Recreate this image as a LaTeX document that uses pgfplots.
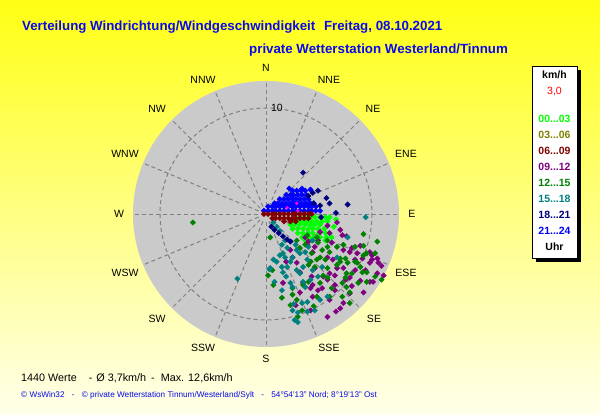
\documentclass[border=0pt]{standalone}
\usepackage{fontspec}
\setmainfont{Liberation Sans}
\usepackage{pgfplots}
\pgfplotsset{compat=1.18}
\definecolor{bgtop}{RGB}{255,255,20}
\definecolor{bgbot}{RGB}{255,255,235}
\definecolor{disk}{RGB}{202,202,202}
\definecolor{gridc}{RGB}{128,128,128}
\definecolor{ttl}{RGB}{10,10,235}
\definecolor{clime}{RGB}{0,255,0}
\definecolor{colive}{RGB}{128,128,0}
\definecolor{cmaroon}{RGB}{128,0,0}
\definecolor{cpurple}{RGB}{128,0,128}
\definecolor{cgreen}{RGB}{0,128,0}
\definecolor{cteal}{RGB}{0,128,128}
\definecolor{cnavy}{RGB}{0,0,128}
\definecolor{cblue}{RGB}{0,0,255}
\definecolor{cmag}{RGB}{255,0,255}
\begin{document}
\begin{tikzpicture}
\useasboundingbox (0,0) rectangle (600bp,-415bp);
\begin{scope}[x=1bp,y=-1bp]
\shade[top color=bgtop,bottom color=bgbot] (0,0) rectangle (600,415);
\fill[disk] (266,214) circle[radius=133];
\begin{scope}[shift={(266,214)}, draw=gridc, line width=1bp, dash pattern=on 4bp off 3bp]
\foreach \a in {0,22.5,...,337.5} \draw (\a:8) -- (\a:133);
\draw (0,0) circle[radius=106];
\end{scope}
% direction labels
\begin{scope}[every node/.style={font=\fontsize{10.5bp}{12bp}\selectfont, inner sep=0pt}]
\node at (266,68) {N};
\node at (329,80) {NNE};
\node at (373,109) {NE};
\node at (406,154) {ENE};
\node at (412,214) {E};
\node at (406,273) {ESE};
\node at (374,319) {SE};
\node at (329,348) {SSE};
\node at (266,359) {S};
\node at (203,348) {SSW};
\node at (157,319) {SW};
\node at (125,273) {WSW};
\node at (119,214) {W};
\node at (125,154) {WNW};
\node at (157,109) {NW};
\node at (203,80) {NNW};
\node at (277,108) {10};
\end{scope}
% titles
\node[anchor=base west, inner sep=0pt, text=ttl, font=\fontsize{13.3bp}{16bp}\selectfont\bfseries] at (22,30) {Verteilung Windrichtung/Windgeschwindigkeit\hspace{5bp} Freitag, 08.10.2021};
\node[anchor=base west, inner sep=0pt, text=ttl, font=\fontsize{13.3bp}{16bp}\selectfont\bfseries] at (249,53) {private Wetterstation Westerland/Tinnum};
% bottom texts
\node[anchor=base west, inner sep=0pt, font=\fontsize{10.8bp}{12bp}\selectfont] at (21,381) {1440 Werte\hspace{12bp}-\hspace{4bp}Ø 3,7km/h\hspace{5bp}-\hspace{6bp}Max. 12,6km/h};
\node[anchor=base west, inner sep=0pt, text=ttl, font=\fontsize{8.2bp}{10bp}\selectfont] at (21,397) {© WsWin32\hspace{5bp} -\hspace{5bp} © private Wetterstation Tinnum/Westerland/Sylt\hspace{5bp} -\hspace{5bp} 54°54'13" Nord; 8°19'13" Ost};
% legend box
\fill[black] (536,70) rectangle (581,262);
\filldraw[fill=white, draw=black, line width=1bp] (532,66) rectangle (577,258);
\begin{scope}[every node/.style={inner sep=0pt, font=\fontsize{10.5bp}{12bp}\selectfont\bfseries}]
\node at (554.5,75) {km/h};
\node[text=red, font=\fontsize{10.5bp}{12bp}\selectfont] at (554.5,92) {3,0};
\node[text=clime] at (554.5,119) {00...03};
\node[text=colive] at (554.5,135) {03...06};
\node[text=cmaroon] at (554.5,151) {06...09};
\node[text=cpurple] at (554.5,167) {09...12};
\node[text=cgreen] at (554.5,183) {12...15};
\node[text=cteal] at (554.5,199) {15...18};
\node[text=cnavy] at (554.5,215) {18...21};
\node[text=cblue] at (554.5,231) {21...24};
\node at (554.5,247) {Uhr};
\end{scope}
\end{scope}
\begin{axis}[at={(266bp,-214bp)}, anchor=center, x=10.6bp, y=10.6bp,
  xmin=-12.6, xmax=12.6, ymin=-12.6, ymax=12.6, hide axis, clip=false,
  scale only axis]
\pgfplotsset{every axis plot/.append style={only marks, mark=square*, mark size=1.9bp, mark options={rotate=45}}}
% 00-03
\addplot[clime] coordinates {
(3.2,-0.3) (3.7,-0.3) (4.2,-0.3) (4.6,-0.3) (5.1,-0.3) (5.6,-0.3) (6.0,-0.3)
(2.5,-0.7) (2.9,-0.7) (3.4,-0.7) (3.9,-0.7) (4.3,-0.7) (4.8,-0.7) (5.3,-0.7) (5.8,-0.7)
(2.3,-1.0) (2.7,-1.0) (3.2,-1.0) (3.7,-1.0) (4.2,-1.0) (4.6,-1.0) (5.1,-1.0)
(2.5,-1.4) (3.0,-1.4) (3.5,-1.4) (4.0,-1.4) (4.4,-1.4) (4.9,-1.4) (5.5,-1.4)
(3.0,-1.8) (3.5,-1.8) (4.0,-1.8) (4.4,-1.8) (5.0,-1.8) (5.6,-1.8) (6.0,-1.8)
(3.4,-2.2) (4.0,-2.2) (4.5,-2.2) (5.1,-2.2) (5.7,-2.2) (6.2,-2.2)
(3.7,-2.5) (4.3,-2.5) (4.9,-2.5) (5.6,-2.5) (6.4,-1.2) (6.6,-0.5)
};
% 09-12
\addplot[cpurple] coordinates {
(7.0,-1.5) (7.6,-2.1) (8.9,-3.0) (9.8,-3.6) (10.5,-4.2) (10.0,-4.3) (10.5,-5.6) (9.8,-6.4)
(8.9,-6.3) (9.2,-7.4) (7.9,-7.5) (7.0,-8.9) (7.3,-8.4) (5.8,-9.7) (5.3,-7.0) (4.9,-7.2)
(4.4,-7.8) (4.2,-7.0) (3.2,-7.4) (2.9,-4.6) (2.5,-4.1) (3.5,-6.5) (5.4,-5.9) (6.0,-5.6)
(6.7,-5.1) (6.3,-4.3) (5.8,-4.1) (4.4,-3.6) (3.9,-2.9) (8.4,-4.3) (7.9,-3.6) (9.1,-4.2)
(4.9,-2.5) (6.2,-2.7) (7.3,-3.4) (6.6,-9.2) (10.9,-4.9) (9.4,-5.3) (5.1,-1.7) (5.8,-1.1)
(3.7,-2.2) (2.3,-3.4) (1.9,-4.5) (3.2,-5.5) (4.6,-5.1) (7.5,-6.2) (8.4,-5.3) (8.1,-6.8)
(6.5,-7.2) (6.0,-8.1) (2.8,-8.6) (1.6,-6.5) (4.2,-9.1) (6.7,-0.8) (7.2,-2.0) (8.1,-3.2)
(8.6,-3.7) (10.0,-3.9) (10.6,-4.6) (9.8,-4.6) (4.6,-3.1) (4.0,-2.6) (6.0,-1.8) (7.3,-5.1)
(6.5,-5.8) (4.3,-5.9) (5.8,-6.2) (7.9,-6.0) (10.1,-6.4) (4.4,-6.7) (6.5,-6.7) (11.1,-5.8)
};
% 12-15
\addplot[cgreen] coordinates {
(10.5,-2.6) (9.2,-3.0) (10.3,-3.7) (9.5,-3.7) (8.6,-4.6) (8.9,-5.0) (9.5,-5.5) (10.3,-5.9)
(10.9,-6.2) (9.5,-6.4) (7.7,-4.6) (7.0,-4.5) (7.6,-5.6) (7.9,-7.4) (7.6,-6.9) (6.2,-7.0)
(7.2,-7.8) (7.9,-8.4) (6.0,-7.8) (4.8,-7.8) (3.5,-6.7) (2.5,-7.0) (2.5,-7.6) (2.9,-8.1)
(1.5,-7.9) (0.7,-6.7) (0.4,-2.2) (3.4,-9.1) (3.0,-9.7) (4.0,-6.4) (5.1,-6.5) (5.8,-6.0)
(4.2,-4.5) (5.1,-4.1) (5.8,-3.1) (6.7,-3.1) (7.3,-2.9) (5.8,-2.5) (4.8,-2.2) (3.9,-2.0)
(2.9,-2.5) (3.2,-3.2) (2.3,-8.6) (4.5,-8.7) (-6.9,-0.8) (0.2,-5.8) (0.6,-5.3) (9.2,-1.9)
(3.7,-2.9) (4.9,-2.7) (5.3,-3.4) (6.0,-3.6) (7.0,-4.2) (7.5,-4.2) (5.6,-4.3) (4.8,-4.3)
(4.3,-3.7) (4.6,-5.0) (4.0,-4.8) (5.8,-5.1) (6.7,-4.8) (8.4,-4.5) (8.4,-3.1) (9.2,-3.9)
(9.1,-5.5) (8.1,-5.6) (8.7,-6.5) (7.2,-6.5) (5.4,-5.8) (7.5,-6.0)
};
% 15-18
\addplot[cteal] coordinates {
(0.7,-0.8) (1.0,-1.2) (1.3,-1.6) (1.5,-2.9) (2.0,-3.2) (1.6,-3.7) (1.0,-4.5) (0.7,-4.3)
(0.4,-5.1) (1.6,-5.5) (0.8,-6.4) (2.3,-6.5) (3.2,-5.6) (3.5,-5.0) (2.9,-5.3) (2.5,-4.1)
(3.2,-3.7) (4.0,-3.1) (4.4,-2.5) (3.9,-4.3) (4.4,-5.3) (4.2,-6.2) (5.3,-5.0) (6.7,-4.1)
(5.8,-7.8) (5.1,-8.1) (4.6,-9.1) (3.0,-9.3) (3.4,-8.4) (2.5,-9.1) (2.7,-10.0) (3.9,-8.3)
(7.7,-2.2) (2.0,-5.0) (2.6,-8.5) (3.9,-9.2) (3.0,-10.2) (-2.7,-6.1) (9.4,-0.3) (0.3,-5.2)
(1.8,-2.5) (2.3,-4.5) (2.8,-2.9) (1.3,-3.9) (1.9,-5.9) (3.7,-6.9) (4.9,-5.9) (1.5,-7.2)
(1.8,-4.1) (2.9,-3.4) (1.5,-5.0) (3.7,-3.6) (2.5,-6.9) (3.5,-6.4)
};
% 21-24
\addplot[cblue] coordinates {
(-0.2,0.3) (0.2,0.3) (0.6,0.3) (0.9,0.3) (1.3,0.3) (1.7,0.3) (2.1,0.3) (2.5,0.3)
(2.8,0.3) (3.2,0.3) (3.6,0.3) (4.0,0.3) (4.3,0.3) (4.7,0.3) (5.1,0.3)
(0.2,0.7) (0.6,0.7) (0.9,0.7) (1.3,0.7) (1.7,0.7) (2.1,0.7) (2.5,0.7) (2.8,0.7)
(3.2,0.7) (3.6,0.7) (4.0,0.7) (4.3,0.7) (4.7,0.7)
(0.8,1.0) (1.1,1.0) (1.5,1.0) (1.9,1.0) (2.3,1.0) (2.6,1.0) (3.0,1.0) (3.4,1.0)
(3.8,1.0) (4.2,1.0) (4.5,1.0)
(1.3,1.4) (1.7,1.4) (2.1,1.4) (2.5,1.4) (2.8,1.4) (3.2,1.4) (3.6,1.4) (4.0,1.4)
(1.9,1.8) (2.3,1.8) (2.6,1.8) (3.0,1.8) (3.4,1.8) (3.8,1.8)
(2.5,2.2) (2.9,2.2) (3.3,2.2) (3.7,2.2) (3.4,2.4) (4.2,2.3) (2.2,2.4)
};
% 18-21
\addplot[cnavy] coordinates {
(3.5,3.9) (4.9,2.2) (5.7,1.5) (6.0,1.0) (6.6,0.1) (7.7,0.9) (5.2,-0.3) (4.0,1.7)
(4.4,2.0) (5.1,0.8) (4.5,1.0)
(0.5,-1.2) (0.8,-1.5) (1.2,-1.8) (1.6,-2.1) (2.0,-2.4) (2.3,-2.6)
};
% 06-09
\addplot[cmaroon] coordinates {
(-0.2,0) (0.2,0) (0.6,0) (0.9,0) (1.3,0) (1.7,0) (2.1,0) (2.5,0) (2.8,0) (3.2,0)
(3.6,0) (4.0,0) (4.3,0)
(0.6,-0.4) (0.9,-0.4) (1.3,-0.4) (1.7,-0.4) (2.1,-0.4) (2.5,-0.4) (2.8,-0.4) (3.2,-0.4)
(3.6,-0.4) (4.0,-0.4)
(1.7,-0.7) (2.3,-0.7) (2.8,-0.7)
};
\addplot[cmag, mark size=1bp] coordinates {(2.9,1.0) (3.0,0.3) (2.0,0.6)};
\end{axis}
\end{tikzpicture}
\end{document}
